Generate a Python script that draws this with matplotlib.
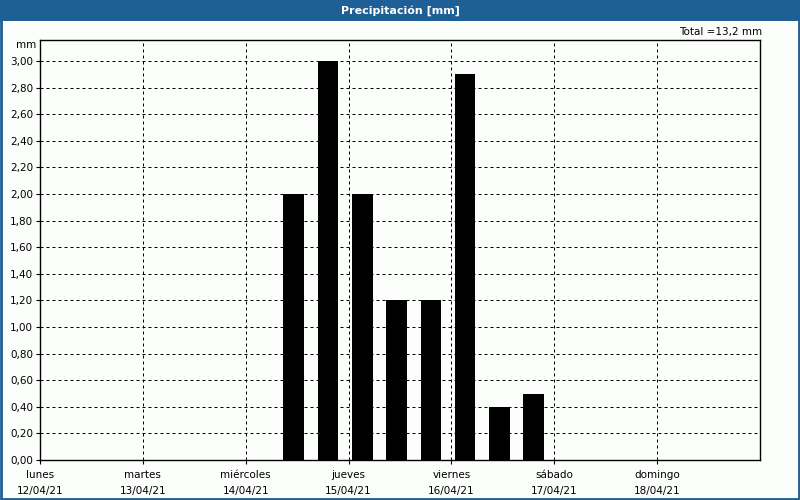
import matplotlib
matplotlib.use("Agg")
import matplotlib.pyplot as plt
from matplotlib.patches import Rectangle
import pandas as pd

# ---- data ----
day_names = ["lunes", "martes", "miércoles", "jueves", "viernes", "sábado", "domingo"]
day_dates = ["12/04/21", "13/04/21", "14/04/21", "15/04/21", "16/04/21", "17/04/21", "18/04/21"]
period_start = ["2021-04-14 08:00", "2021-04-14 16:00", "2021-04-15 00:00", "2021-04-15 08:00",
                "2021-04-15 16:00", "2021-04-16 00:00", "2021-04-16 08:00", "2021-04-16 16:00"]
precip_mm = [2.0, 3.0, 2.0, 1.2, 1.2, 2.9, 0.4, 0.5]
y_ticks = [0.0, 0.2, 0.4, 0.6, 0.8, 1.0, 1.2, 1.4, 1.6, 1.8, 2.0, 2.2, 2.4, 2.6, 2.8, 3.0]
title = "Precipitación [mm]"
unit = "mm"

origin = pd.Timestamp("2021-04-12 00:00")
period_days = [(pd.Timestamp(s) - origin) / pd.Timedelta(days=1) for s in period_start]
total = sum(precip_mm)

BLUE = "#1E5F96"
BG = "#FCFEFC"
FONT = "DejaVu Sans"

fig = plt.figure(figsize=(8, 5), dpi=100, facecolor=BG)

# title bar and border
fig.patches.append(Rectangle((0, 1 - 21 / 500), 1, 21 / 500, transform=fig.transFigure,
                             facecolor=BLUE, edgecolor="none", zorder=0))
fig.patches.append(Rectangle((0.001, 0.002), 0.998, 0.996, transform=fig.transFigure,
                             facecolor="none", edgecolor=BLUE, linewidth=2, zorder=5))
fig.text(0.5, 1 - 10.5 / 500, title, color="white", fontsize=8, fontweight="bold",
         ha="center", va="center", family=FONT)

ax = fig.add_axes([40 / 800, 40 / 500, 720 / 800, 420 / 500])
ax.set_facecolor(BG)

bin_w = 1 / 3
ax.bar([d + 0.1 * bin_w for d in period_days], precip_mm, width=0.6 * bin_w, align="edge",
       color="black", edgecolor="none", zorder=3)

ax.set_xlim(0, 7)
ax.set_ylim(0, 3.158)
ax.set_yticks(y_ticks)
ax.set_yticklabels([f"{v:.2f}".replace(".", ",") for v in y_ticks], fontsize=7.5, family=FONT)
ax.set_xticks(range(7))
ax.set_xticklabels([f"{n}\n{d}" for n, d in zip(day_names, day_dates)], fontsize=7.5,
                   family=FONT, linespacing=1.8)

ax.tick_params(axis="both", direction="out", length=3, width=0.8, color="black", pad=2)
ax.tick_params(axis="x", pad=4)

for v in y_ticks[1:]:
    ax.axhline(v, color="black", lw=0.72, ls=(0, (3, 3)), zorder=1)
for d in range(1, 7):
    ax.axvline(d, color="black", lw=0.72, ls=(0, (3, 3)), zorder=1)

for s in ax.spines.values():
    s.set_linewidth(1.0)
    s.set_color("black")

fig.text(36 / 800, 1 - 45 / 500, unit, fontsize=7.5, ha="right", va="center", family=FONT)
fig.text(762 / 800, 1 - 32 / 500, f"Total ={total:.1f}".replace(".", ",") + " mm",
         fontsize=7.5, ha="right", va="center", family=FONT)

fig.savefig("out.png", dpi=100, facecolor=BG)
